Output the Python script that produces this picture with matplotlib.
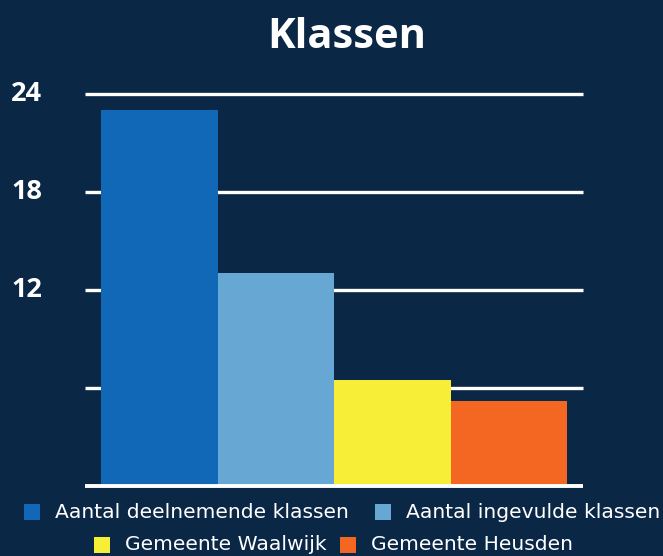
import matplotlib
matplotlib.use("Agg")
import matplotlib.pyplot as plt
from matplotlib.patches import Rectangle
from matplotlib.transforms import blended_transform_factory

categories = ["Aantal deelnemende klassen", "Aantal ingevulde klassen",
              "Gemeente Waalwijk", "Gemeente Heusden"]
values = [23, 13, 6.5, 5.2]
colors = ["#1068b6", "#66a7d3", "#f7ef37", "#f46722"]
yticks = [0, 6, 12, 18, 24]
ytick_labels = ["", "", "12", "18", "24"]
title = "Klassen"

BG = "#0a2746"
W, H = 663, 556
fig = plt.figure(figsize=(W / 100, H / 100), dpi=100, facecolor=BG)
ax = fig.add_axes([85 / W, 1 - 486 / H, (583 - 85) / W, (486 - 93.5) / H])
ax.set_facecolor(BG)

n = len(values)
x = list(range(n))
ax.bar(x, values, width=1.0, color=colors, zorder=3)
ax.set_xlim(-0.5 - 16 / 116.5, n - 0.5 + 16 / 116.5)
ax.set_ylim(0, 24)

for t in yticks:
    ax.axhline(t, color="white", lw=2.4 if t else 2.8, zorder=1 if t else 4,
               clip_on=False, solid_capstyle="butt")
for s in ax.spines.values():
    s.set_visible(False)
ax.set_xticks([])
ax.set_yticks([])

tr = blended_transform_factory(fig.transFigure, ax.transData)
for t, lab in zip(yticks, ytick_labels):
    if lab:
        ax.text(11 / W, t, lab, transform=tr, ha="left", va="center",
                color="white", fontsize=19.5, fontweight="bold",
                family=["Open Sans", "DejaVu Sans"])

fig.text(347 / W, 1 - 38 / H, title, ha="center", va="center", color="white",
         fontsize=30, fontweight="bold", family=["Open Sans", "DejaVu Sans"])

# legend (manual, to mimic centered two-row layout)
rows = [[(24, 0), (375, 1)], [(94, 2), (340, 3)]]
row_y = [512, 545]
for (items, yc) in zip(rows, row_y):
    for xs, i in items:
        fig.patches.append(Rectangle((xs / W, 1 - (yc + 8) / H), 16 / W, 16 / H,
                                     transform=fig.transFigure, facecolor=colors[i],
                                     edgecolor="none"))
        fig.text((xs + 31) / W, 1 - yc / H, categories[i], ha="left", va="center",
                 color="white", fontsize=14.6, family=["DejaVu Sans"])

fig.savefig("out.png", dpi=100, facecolor=BG)
